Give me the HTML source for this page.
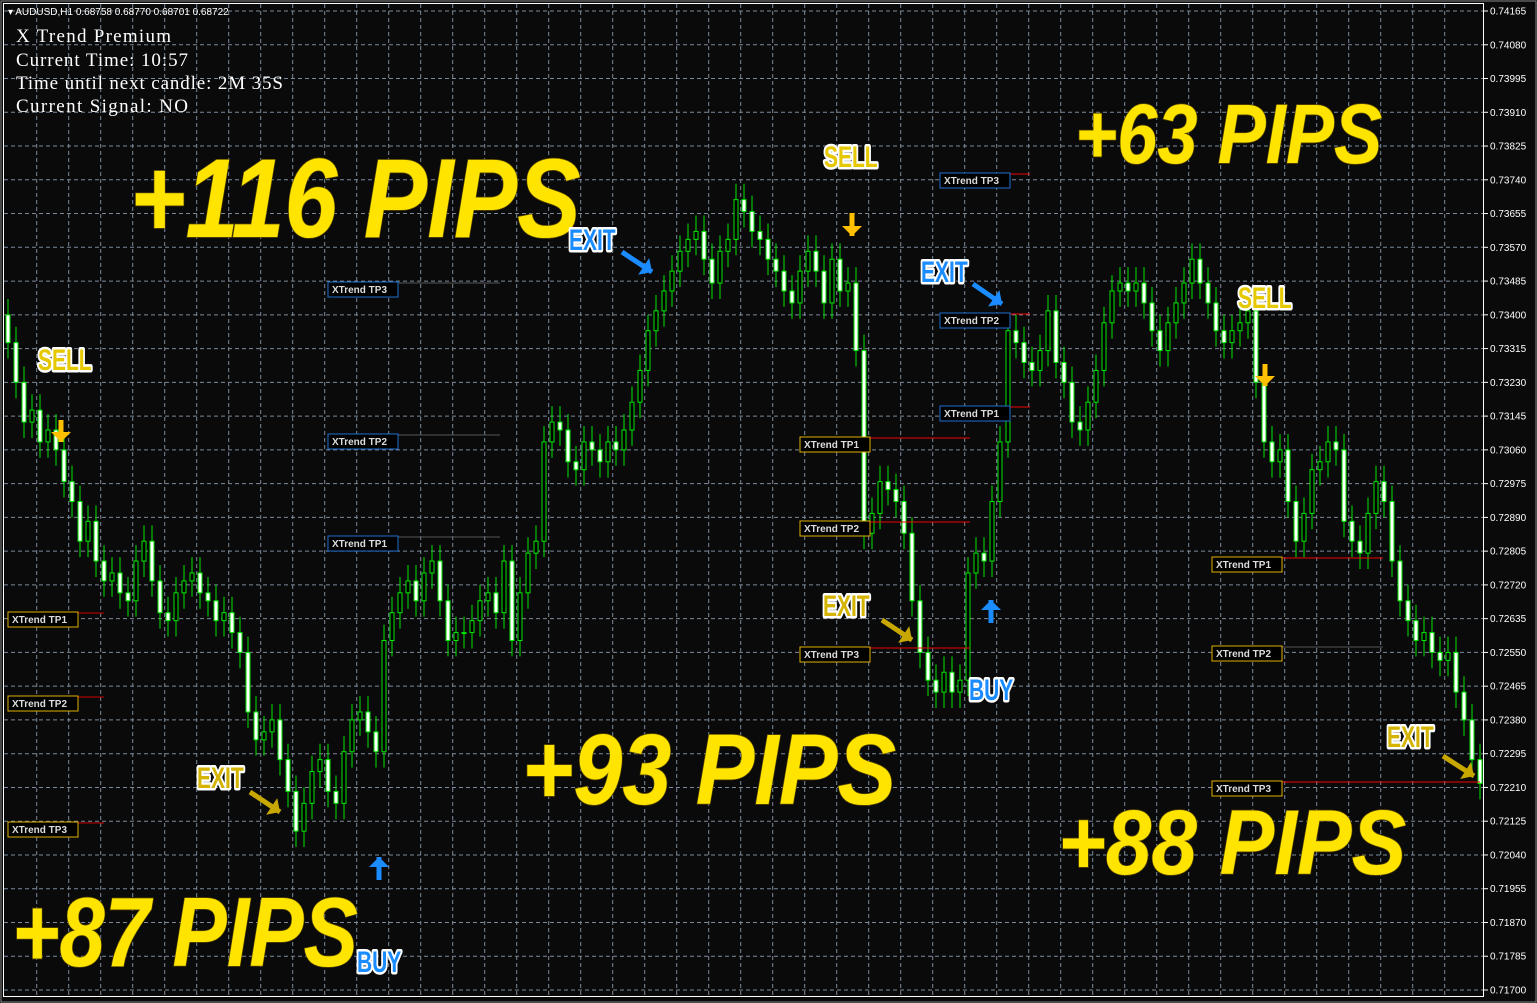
<!DOCTYPE html>
<html><head><meta charset="utf-8">
<style>
html,body{margin:0;padding:0;background:#fff;}
svg{display:block;}
.big{font-family:"Liberation Sans Narrow","Liberation Sans",sans-serif;font-weight:bold;font-style:italic;fill:#FFE400;stroke:#5a4a00;stroke-width:1.5;paint-order:stroke;}
.tag{font-family:"Liberation Sans Narrow","Liberation Sans",sans-serif;font-weight:bold;stroke:#fff;stroke-width:5;paint-order:stroke;stroke-linejoin:round;}
.tp{font-family:"Liberation Sans",sans-serif;font-weight:bold;font-size:10px;fill:#ddd;}
.ax{font-family:"Liberation Sans",sans-serif;font-size:10px;fill:#fff;}
.info{font-family:"Liberation Serif",serif;font-size:19px;fill:#fff;}
</style></head>
<body>
<svg id="chart" width="1537" height="1003" xmlns="http://www.w3.org/2000/svg">
<rect x="0" y="0" width="1537" height="1003" fill="#0a0a0a"/>
<rect x="1" y="1" width="1535" height="1001" fill="none" stroke="#888" stroke-width="1"/>
<g id="grid"></g>
<g id="candles"></g>
<g id="overlay"></g>
<line x1="3.5" y1="3" x2="3.5" y2="997" stroke="#fff"/>
<line x1="3" y1="3.5" x2="1484" y2="3.5" stroke="#fff"/>
<line x1="1483.5" y1="3" x2="1483.5" y2="997" stroke="#fff"/>
<line x1="3" y1="996.5" x2="1484" y2="996.5" stroke="#fff"/>
<g id="axis"></g>
<text x="8" y="15" class="ax" font-size="9">▾ AUDUSD,H1  0.68758 0.68770 0.68701 0.68722</text>
<g>
<text x="16" y="42" class="info" textLength="155">X Trend Premium</text>
<text x="16" y="66" class="info" textLength="172">Current Time: 10:57</text>
<text x="16" y="89" class="info" textLength="267">Time until next candle: 2M 35S</text>
<text x="16" y="112" class="info" textLength="172">Current Signal:   NO</text>
</g>
</svg>
<script>
const tickLabels=["0.74165","0.74080","0.73995","0.73910","0.73825","0.73740","0.73655","0.73570","0.73485","0.73400","0.73315","0.73230","0.73145","0.73060","0.72975","0.72890","0.72805","0.72720","0.72635","0.72550","0.72465","0.72380","0.72295","0.72210","0.72125","0.72040","0.71955","0.71870","0.71785","0.71700"];
const closes=[0.7333,0.7323,0.7313,0.7316,0.7308,0.7311,0.7306,0.7298,0.7293,0.7283,0.7288,0.7278,0.7273,0.7275,0.7270,0.7268,0.7278,0.7283,0.7273,0.7265,
0.7263,0.7270,0.7273,0.7275,0.7270,0.7268,0.7263,0.7265,0.7260,0.7255,0.7240,0.7233,0.7235,0.7238,0.7228,0.7220,0.7210,0.7217,0.7225,0.7228,
0.7220,0.7217,0.7230,0.7238,0.7240,0.7235,0.7230,0.7258,0.7265,0.7270,0.7273,0.7268,0.7275,0.7278,0.7268,0.7258,0.7260,0.7260,0.7263,0.7268,
0.7270,0.7265,0.7278,0.7258,0.7270,0.7280,0.7283,0.7308,0.7313,0.7311,0.7303,0.7301,0.7308,0.7306,0.7303,0.7308,0.7306,0.7311,0.7318,0.7326,
0.7336,0.7341,0.7346,0.7351,0.7356,0.7359,0.7361,0.7354,0.7348,0.7356,0.7359,0.7369,0.7366,0.7361,0.7359,0.7354,0.7351,0.7346,0.7343,0.7351,
0.7356,0.7351,0.7343,0.7354,0.7346,0.7348,0.7331,0.7285,0.7290,0.7298,0.7296,0.7293,0.7285,0.7268,0.7255,0.7248,0.7245,0.7250,0.7245,0.7248,
0.7275,0.7280,0.7278,0.7293,0.7308,0.7336,0.7333,0.7328,0.7326,0.7331,0.7341,0.7328,0.7323,0.7313,0.7311,0.7318,0.7326,0.7338,0.7346,0.7348,
0.7346,0.7348,0.7343,0.7336,0.7331,0.7338,0.7343,0.7348,0.7354,0.7348,0.7343,0.7336,0.7333,0.7336,0.7338,0.7341,0.7323,0.7308,0.7303,0.7306,
0.7293,0.7283,0.7290,0.7301,0.7303,0.7308,0.7306,0.7288,0.7283,0.7280,0.7290,0.7298,0.7293,0.7278,0.7268,0.7263,0.7258,0.7260,0.7255,0.7253,
0.7255,0.7245,0.7238,0.7228,0.7222];
const firstOpen=0.7340;
const NS="http://www.w3.org/2000/svg";
const P_TOP=0.74165,P_BOT=0.71700,Y_TOP=11,Y_BOT=990;
function yScale(p){return Y_TOP+(P_TOP-p)/(P_TOP-P_BOT)*(Y_BOT-Y_TOP);}
function xScale(i){return 8+i*8;}
function mk(tag,attrs,parent){const e=document.createElementNS(NS,tag);for(const k in attrs)e.setAttribute(k,attrs[k]);parent.appendChild(e);return e;}
const grid=document.getElementById('grid'),axis=document.getElementById('axis');
tickLabels.forEach((t,k)=>{
  const y=Y_TOP+k*(Y_BOT-Y_TOP)/(tickLabels.length-1);
  const l=mk('line',{x1:4,x2:1483,y1:y,y2:y,stroke:'#7a8a9a','stroke-dasharray':'4,3','stroke-width':1},grid);
  
  
  mk('line',{x1:1483,x2:1488,y1:y,y2:y,stroke:'#fff'},axis);
  const tx=mk('text',{x:1490,y:y+3.5,class:'ax'},axis);
  tx.textContent=t;
  
  
});
for(let k=1;k<=45;k++){
  const x=4.7+32*k;
  const l=mk('line',{x1:x,x2:x,y1:4,y2:996,stroke:'#7a8a9a','stroke-dasharray':'4,3','stroke-width':1},grid);
  
  
}
const cg=document.getElementById('candles');
let prev=firstOpen;
closes.forEach((c,i)=>{
  const o=prev,x=xScale(i);
  const hi=Math.max(o,c)+0.0004,lo=Math.min(o,c)-0.0004;
  const w=mk('line',{x1:x,x2:x,y1:yScale(hi),y2:yScale(lo),stroke:'#00e600','stroke-width':1},cg);
  
  
  const yt=yScale(Math.max(o,c)),yb=yScale(Math.min(o,c));
  const b=mk('rect',{x:x-2,y:yt,width:4,height:Math.max(1,yb-yt),fill:c>=o?'#000':'#fff',stroke:'#00e600','stroke-width':1},cg);
  
  
  prev=c;
});
const ov=document.getElementById('overlay');
function tpBox(x,y,label,color,lx2,lcol){
  if(lx2){const l=mk('line',{x1:x+70,x2:lx2,y1:y,y2:y,stroke:lcol,'stroke-width':1},ov);
    
    }
  const r=mk('rect',{x:x,y:y-1,width:70,height:15,fill:'#000',stroke:color,'stroke-width':1},ov);
  
  
  const t=mk('text',{x:x+4,y:y+10,class:'tp'},ov);
  t.textContent=label;
  
  
}
tpBox(8,613,'XTrend TP1','#e0b000',104,'#c00');
tpBox(8,697,'XTrend TP2','#e0b000',104,'#c00');
tpBox(8,823,'XTrend TP3','#e0b000',104,'#c00');
tpBox(328,283,'XTrend TP3','#1e6fd0',500,'#555');
tpBox(328,435,'XTrend TP2','#1e6fd0',500,'#555');
tpBox(328,537,'XTrend TP1','#1e6fd0',500,'#555');
tpBox(800,438,'XTrend TP1','#e0b000',970,'#e00');
tpBox(800,522,'XTrend TP2','#e0b000',970,'#e00');
tpBox(800,648,'XTrend TP3','#e0b000',970,'#e00');
tpBox(940,174,'XTrend TP3','#1e6fd0',1030,'#e00');
tpBox(940,314,'XTrend TP2','#1e6fd0',1030,'#e00');
tpBox(940,407,'XTrend TP1','#1e6fd0',1030,'#e00');
tpBox(1212,558,'XTrend TP1','#e0b000',1383,'#e00');
tpBox(1212,647,'XTrend TP2','#e0b000',1383,'#555');
tpBox(1212,782,'XTrend TP3','#e0b000',1480,'#e00');
function big(x,y,s,sx,txt){const t=mk('text',{x:x,y:y,class:'big','font-size':s,transform:`translate(${x},${y}) scale(${sx},1) translate(${-x},${-y})`},ov);
  t.textContent=txt;
  
  }
big(130,237,112,0.85,'+116 PIPS');
big(1075,163,84,0.86,'+63 PIPS');
big(522,804,100,0.88,'+93 PIPS');
big(1058,874,92,0.89,'+88 PIPS');
big(12,966,98,0.83,'+87 PIPS');
function tag(x,y,s,txt,col,name){const t=mk('text',{x:x,y:y,class:'tag','font-size':s,fill:col,transform:`translate(${x},${y}) scale(0.7,1) translate(${-x},${-y})`},ov);
  t.textContent=txt;
  
  }
tag(38,370,30,'SELL','#e6c800','sell-signal-label');
tag(824,167,30,'SELL','#e6c800','sell-signal-label');
tag(1238,308,30,'SELL','#e6c800','sell-signal-label');
tag(569,250,30,'EXIT','#1a8cff','exit-label');
tag(921,282,30,'EXIT','#1a8cff','exit-label');
tag(197,788,30,'EXIT','#d4b400','exit-label');
tag(823,616,30,'EXIT','#d4b400','exit-label');
tag(1387,747,30,'EXIT','#d4b400','exit-label');
tag(357,972,30,'BUY','#1a8cff','buy-signal-label');
tag(969,700,30,'BUY','#1a8cff','buy-signal-label');
function arrow(x1,y1,x2,y2,col){const l=mk('line',{x1:x1,y1:y1,x2:x2,y2:y2,stroke:col,'stroke-width':5},ov);
  
  
  const a=Math.atan2(y2-y1,x2-x1),h=10;
  const p=[[x2,y2],[x2-h*Math.cos(a)+h*Math.sin(a),y2-h*Math.sin(a)-h*Math.cos(a)],[x2-h*Math.cos(a)-h*Math.sin(a),y2-h*Math.sin(a)+h*Math.cos(a)]];
  mk('polygon',{points:p.map(q=>q.join(',')).join(' '),fill:col},ov);}
arrow(61,420,61,442,'#ffc000');
arrow(852,213,852,236,'#ffc000');
arrow(1265,364,1265,386,'#ffc000');
arrow(379,880,379,857,'#1a8cff');
arrow(991,623,991,600,'#1a8cff');
arrow(622,252,652,272,'#1a8cff');
arrow(973,284,1002,304,'#1a8cff');
arrow(250,792,280,812,'#c8a800');
arrow(882,620,912,640,'#c8a800');
arrow(1443,756,1474,776,'#c8a800');
</script>
</body></html>
